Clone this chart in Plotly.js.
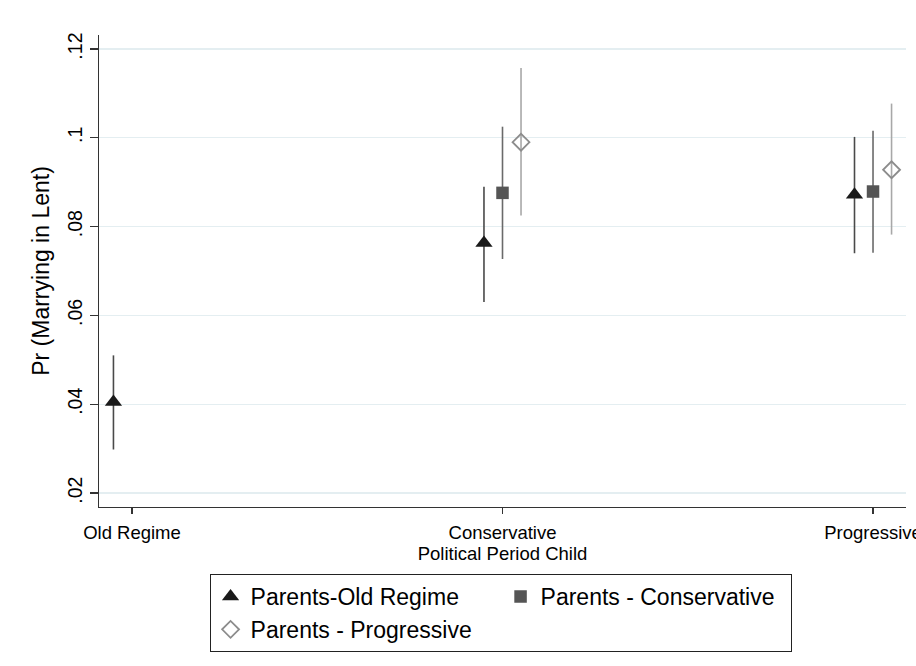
<!DOCTYPE html>
<html>
<head>
<meta charset="utf-8">
<script src="https://cdn.plot.ly/plotly-3.0.1.min.js"></script>
<style>
  html, body { margin: 0; padding: 0; background: #ffffff; }
  #chart { width: 916px; height: 666px; }
</style>
</head>
<body>
<div id="chart"></div>
<script>
// Categories on the x axis (political period of the child)
const categories = ['Old Regime', 'Conservative', 'Progressive'];
const catPos = [1, 2, 3];
const xTitle = 'Political Period Child';

// Y-axis ticks
const yTickVals = [0.02, 0.04, 0.06, 0.08, 0.10, 0.12];
const yTickText = ['.02', '.04', '.06', '.08', '.1', '.12'];
const yTitle = 'Pr (Marrying in Lent)';

// Series: Parents-Old Regime
const oldName = 'Parents-Old Regime';
const oldEst  = [0.0405, 0.0763, 0.0872];
const oldLow  = [0.0298, 0.0630, 0.0740];
const oldHigh = [0.0510, 0.0890, 0.1002];

// Series: Parents - Conservative
const conName = 'Parents - Conservative';
const conEst  = [null, 0.0876, 0.0879];
const conLow  = [null, 0.0727, 0.0741];
const conHigh = [null, 0.1025, 0.1016];

// Series: Parents - Progressive
const proName = 'Parents - Progressive';
const proEst  = [null, 0.0990, 0.0928];
const proLow  = [null, 0.0825, 0.0782];
const proHigh = [null, 0.1157, 0.1077];

const FONT = 'Liberation Sans, Arial, Helvetica, sans-serif';
const dodge = 0.05;

function makeTrace(name, est, low, high, offset, marker, barColor) {
  const x = [], y = [], plus = [], minus = [];
  est.forEach((v, i) => {
    if (v === null) return;
    x.push(catPos[i] + offset);
    y.push(v);
    plus.push(high[i] - v);
    minus.push(v - low[i]);
  });
  return {
    type: 'scatter',
    mode: 'markers',
    name: name,
    x: x,
    y: y,
    marker: marker,
    error_y: {
      type: 'data',
      symmetric: false,
      array: plus,
      arrayminus: minus,
      width: 0,
      thickness: 1.6,
      color: barColor
    },
    hoverinfo: 'x+y'
  };
}

const traces = [
  makeTrace(oldName, oldEst, oldLow, oldHigh, -dodge,
    {symbol: 'triangle-up', size: 15, color: '#1a1a1a', line: {width: 0}}, '#4a4a4a'),
  makeTrace(conName, conEst, conLow, conHigh, 0,
    {symbol: 'square', size: 12.5, color: '#555555', line: {width: 0}}, '#6a6a6a'),
  makeTrace(proName, proEst, proLow, proHigh, dodge,
    {symbol: 'diamond-open', size: 13, color: '#8c8c8c', line: {width: 1.8, color: '#8c8c8c'}}, '#a8a8a8')
];

const layout = {
  width: 916,
  height: 666,
  paper_bgcolor: '#ffffff',
  plot_bgcolor: '#ffffff',
  font: {family: FONT, color: '#000000', size: 18},
  margin: {l: 99, r: 10, t: 35, b: 159, pad: 0},
  showlegend: true,
  xaxis: {
    range: [0.911, 3.089],
    tickvals: catPos,
    ticktext: categories,
    ticks: 'outside',
    ticklen: 6,
    tickwidth: 1.2,
    tickcolor: '#333333',
    ticklabeloverflow: 'allow',
    ticklabelstandoff: 3,
    showline: true,
    linecolor: '#333333',
    linewidth: 1.2,
    showgrid: false,
    zeroline: false,
    automargin: false,
    tickfont: {family: FONT, size: 18.5, color: '#000000'},
    title: {text: xTitle, font: {family: FONT, size: 18.5, color: '#000000'}, standoff: 0}
  },
  yaxis: {
    range: [0.01685, 0.12315],
    tickvals: yTickVals,
    ticktext: yTickText,
    tickangle: -90,
    ticks: 'outside',
    ticklen: 8,
    tickwidth: 1.2,
    tickcolor: '#333333',
    showline: true,
    linecolor: '#333333',
    linewidth: 1.2,
    showgrid: true,
    gridcolor: '#e4eef1',
    gridwidth: 1.2,
    zeroline: false,
    automargin: false,
    tickfont: {family: FONT, size: 19.5, color: '#000000'},
    title: {text: yTitle, font: {family: FONT, size: 23, color: '#000000'}, standoff: 8}
  },
  legend: {
    orientation: 'h',
    x: 0.137,
    xanchor: 'left',
    y: -0.142,
    yanchor: 'top',
    bgcolor: '#ffffff',
    bordercolor: '#222222',
    borderwidth: 1,
    entrywidth: 245,
    entrywidthmode: 'pixels',
    font: {family: FONT, size: 23, color: '#000000'},
    traceorder: 'normal'
  }
};

Plotly.newPlot('chart', traces, layout, {displayModeBar: false, staticPlot: true});
</script>
</body>
</html>
